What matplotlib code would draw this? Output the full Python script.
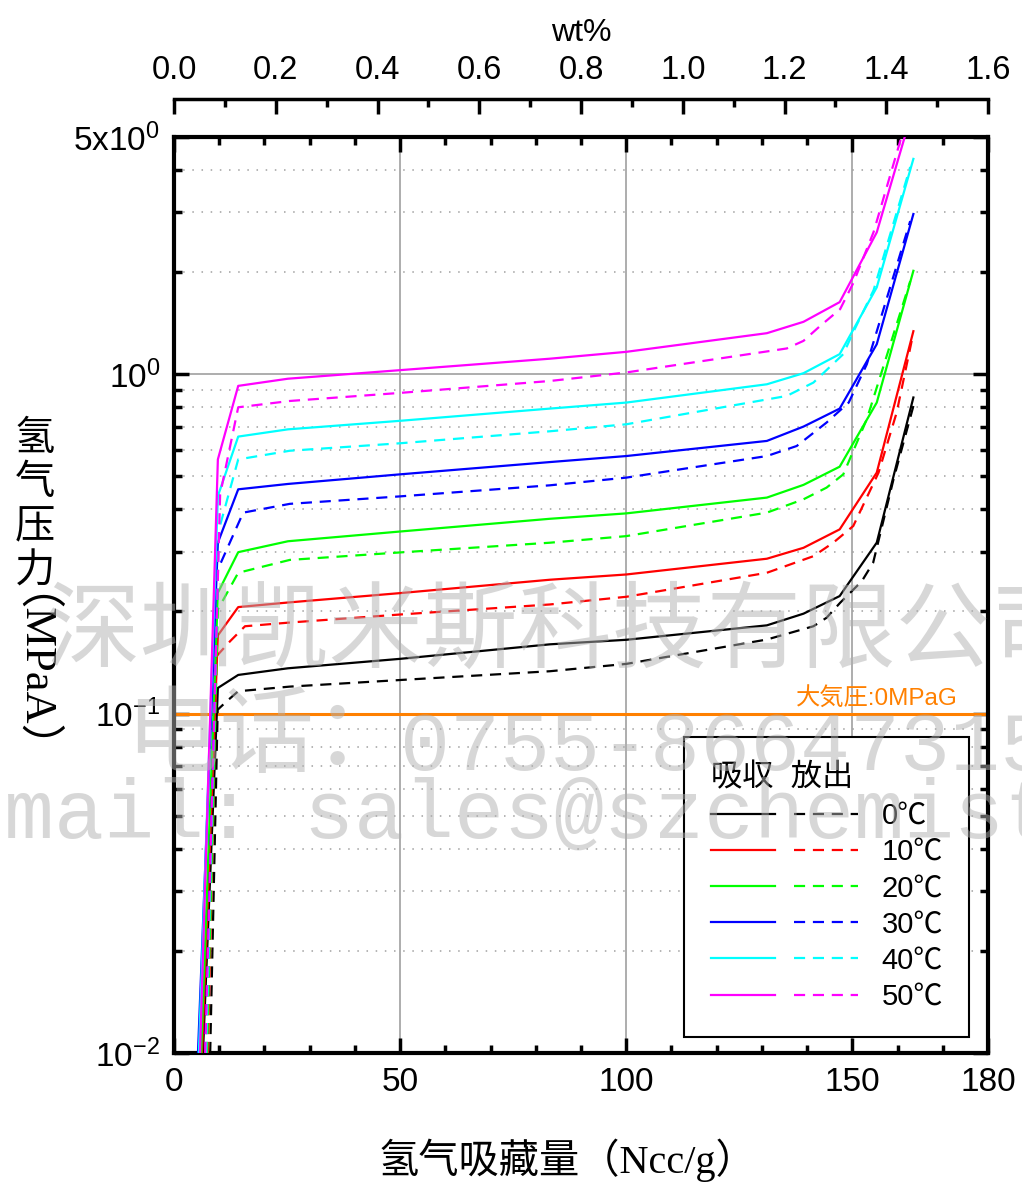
# PCT curves (absorption / desorption) of a hydrogen storage alloy
import matplotlib
matplotlib.use("Agg")
import matplotlib.pyplot as plt
import matplotlib.ticker as mticker
from matplotlib.legend_handler import HandlerTuple
from matplotlib.lines import Line2D

plt.rcParams["font.family"] = ["Liberation Sans", "Noto Sans CJK JP"]
plt.rcParams["mathtext.fontset"] = "custom"
plt.rcParams["mathtext.rm"] = "Liberation Sans"
plt.rcParams["mathtext.it"] = "Liberation Sans:italic"
plt.rcParams["mathtext.bf"] = "Liberation Sans:bold"

# ----------------------------------------------------------
# DATA  (x: Ncc/g, p: MPaA)
# ----------------------------------------------------------
temps = ["0℃", "10℃", "20℃", "30℃", "40℃", "50℃"]
colors = ["#000000", "#FF0000", "#00FF00", "#0000FF", "#00FFFF", "#FF00FF"]

# absorption (solid)
abs_x_0 = [6.4, 9.7, 14.2, 25.2, 50.0, 83.1, 100.0, 131.1, 139.2, 147.2, 155.4, 163.5]
abs_p_0 = [0.010, 0.119, 0.130, 0.136, 0.145, 0.160, 0.165, 0.182, 0.197, 0.222, 0.319, 0.854]
abs_x_10 = [6.2, 9.7, 14.2, 25.2, 50.0, 83.1, 100.0, 131.1, 139.2, 147.2, 155.4, 163.5]
abs_p_10 = [0.010, 0.170, 0.206, 0.2125, 0.2265, 0.248, 0.257, 0.286, 0.308, 0.349, 0.513, 1.339]
abs_x_20 = [6.0, 9.7, 14.2, 25.2, 50.0, 83.1, 100.0, 131.1, 139.2, 147.2, 155.4, 163.5]
abs_p_20 = [0.010, 0.227, 0.299, 0.322, 0.344, 0.375, 0.389, 0.433, 0.472, 0.534, 0.825, 2.017]
abs_x_30 = [5.3, 9.7, 14.2, 25.2, 50.0, 83.1, 100.0, 131.1, 139.2, 147.2, 155.4, 163.5]
abs_p_30 = [0.010, 0.319, 0.458, 0.475, 0.507, 0.551, 0.574, 0.636, 0.701, 0.792, 1.226, 2.965]
abs_x_40 = [5.5, 9.7, 14.2, 25.2, 50.0, 83.1, 100.0, 131.1, 139.2, 147.2, 155.4, 163.5]
abs_p_40 = [0.010, 0.4375, 0.655, 0.688, 0.729, 0.792, 0.825, 0.934, 1.007, 1.146, 1.803, 4.31]
abs_x_50 = [5.75, 9.7, 14.2, 25.2, 50.0, 83.1, 100.0, 131.1, 139.2, 147.2, 155.4, 163.5]
abs_p_50 = [0.010, 0.561, 0.924, 0.970, 1.028, 1.111, 1.164, 1.321, 1.427, 1.631, 2.618, 6.11]

# desorption (dashed)
des_x_0 = [8.0, 9.66, 11.65, 14.2, 25.6, 50.0, 83.1, 100.0, 131.1, 141.4, 144.3, 147.3, 152.1, 154.6, 159.1, 163.5]
des_p_0 = [0.010, 0.1027, 0.1087, 0.1164, 0.1201, 0.1256, 0.1333, 0.1401, 0.1653, 0.1809, 0.1916, 0.2121, 0.2456, 0.2783, 0.490, 0.806]
des_x_10 = [7.5, 9.4, 12.4, 15.7, 25.6, 50.0, 83.1, 100.0, 131.1, 141.4, 145.8, 150.2, 155.8, 159.8, 163.2]
des_p_10 = [0.010, 0.1476, 0.1634, 0.1809, 0.1855, 0.1959, 0.2097, 0.2209, 0.260, 0.291, 0.319, 0.357, 0.513, 0.771, 1.268]
des_x_20 = [7.3, 9.7, 14.2, 25.6, 50.0, 83.1, 100.0, 131.1, 139.2, 144.3, 148.0, 153.2, 162.8]
des_p_20 = [0.010, 0.2026, 0.260, 0.2837, 0.2985, 0.3188, 0.3334, 0.391, 0.428, 0.4633, 0.507, 0.737, 1.880]
des_x_30 = [6.9, 9.7, 15.3, 25.6, 50.0, 83.1, 100.0, 131.1, 137.7, 144.3, 149.2, 153.2, 162.8]
des_p_30 = [0.010, 0.266, 0.391, 0.415, 0.4366, 0.4706, 0.4958, 0.574, 0.6145, 0.7204, 0.825, 1.070, 2.827]
des_x_40 = [7.1, 9.95, 14.2, 25.6, 50.0, 83.1, 100.0, 135.5, 141.4, 148.0, 150.2, 154.7, 162.8]
des_p_40 = [0.010, 0.349, 0.561, 0.595, 0.626, 0.679, 0.712, 0.863, 0.945, 1.146, 1.330, 1.769, 4.08]
des_x_50 = [6.9, 10.2, 14.2, 25.6, 50.0, 83.1, 100.0, 135.5, 139.2, 142.9, 147.3, 150.2, 154.7, 162.8]
des_p_50 = [0.010, 0.4426, 0.799, 0.834, 0.881, 0.955, 1.012, 1.191, 1.254, 1.388, 1.555, 1.855, 2.624, 6.13]

atm_pressure = 0.1
y_major = [0.01, 0.1, 1, 5]
y_major_labels = [r"$10^{-2}$", r"$10^{-1}$", r"$10^{0}$", r"5x$10^{0}$"]
y_minor = [2e-2, 3e-2, 4e-2, 5e-2, 6e-2, 7e-2, 8e-2, 9e-2,
           0.2, 0.3, 0.4, 0.5, 0.6, 0.7, 0.8, 0.9, 2, 3, 4]
x_major = [0, 50, 100, 150, 180]

absorption = [(abs_x_0, abs_p_0), (abs_x_10, abs_p_10), (abs_x_20, abs_p_20),
              (abs_x_30, abs_p_30), (abs_x_40, abs_p_40), (abs_x_50, abs_p_50)]
desorption = [(des_x_0, des_p_0), (des_x_10, des_p_10), (des_x_20, des_p_20),
              (des_x_30, des_p_30), (des_x_40, des_p_40), (des_x_50, des_p_50)]

DASH = (0, (5, 3.5))
LW = 1.6
GRIS = "#a0a0a0"

# ----------------------------------------------------------
# FIGURE
# ----------------------------------------------------------
fig = plt.figure(figsize=(10.22, 11.82), dpi=100)
ax = fig.add_axes([174 / 1022, 1 - 1053 / 1182, 814 / 1022, 916 / 1182])

for (xa, pa), (xd, pd), c in zip(absorption, desorption, colors):
    ax.plot(xa, pa, color=c, lw=LW, zorder=3)
    ax.plot(xd, pd, color=c, lw=LW, ls=DASH, zorder=3)

ax.axhline(atm_pressure, color="#FF8000", lw=2.2, zorder=2.5)
ax.annotate("大気圧:0MPaG", xy=(173.4, atm_pressure), xytext=(0, 3),
            textcoords="offset points", ha="right", va="bottom",
            fontsize=17.5, color="#FF8000")

ax.set_yscale("log")
ax.set_xlim(0, 180)
ax.set_ylim(0.01, 5)

ax.xaxis.set_major_locator(mticker.FixedLocator(x_major))
ax.xaxis.set_minor_locator(mticker.MultipleLocator(10))
ax.yaxis.set_major_locator(mticker.FixedLocator(y_major))
ax.yaxis.set_major_formatter(mticker.FixedFormatter(y_major_labels))
ax.yaxis.set_minor_locator(mticker.FixedLocator(y_minor))
ax.yaxis.set_minor_formatter(mticker.NullFormatter())

ax.set_axisbelow(True)
ax.grid(which="major", color=GRIS, lw=1.2)
ax.grid(which="minor", axis="y", color=GRIS, lw=1.1, ls=(0, (1, 5)))

ax.tick_params(which="both", direction="in", top=True, right=True, width=2.5)
ax.tick_params(which="major", length=11, labelsize=24, pad=10)
ax.tick_params(which="minor", length=6)
for s in ax.spines.values():
    s.set_linewidth(3)

# top axis: wt%
secax = ax.secondary_xaxis("top", functions=(lambda x: x * 1.6 / 180, lambda w: w * 180 / 1.6))
secax.spines["top"].set_position(("outward", 27))
secax.spines["top"].set_linewidth(2.5)
secax.xaxis.set_major_locator(mticker.MultipleLocator(0.2))
secax.xaxis.set_minor_locator(mticker.MultipleLocator(0.1))
secax.xaxis.set_major_formatter(mticker.FormatStrFormatter("%.1f"))
secax.tick_params(which="both", direction="in", width=2.5)
secax.tick_params(which="major", length=11, labelsize=23.5, pad=10)
secax.tick_params(which="minor", length=6)
secax.set_xlabel("wt%", fontsize=23, labelpad=10)

# legend: solid + dashed sample per temperature
handles = [(Line2D([], [], color=c, lw=LW), Line2D([], [], color=c, lw=LW, ls=DASH)) for c in colors]
leg = ax.legend(handles, temps, handler_map={tuple: HandlerTuple(ndivide=None, pad=0.68)},
                loc="lower right", bbox_to_anchor=(0.977, 0.0175), borderaxespad=0,
                fontsize=21, title="吸収  放出", title_fontsize=22.5, alignment="left",
                handlelength=5.07, handletextpad=0.79, labelspacing=0.28, borderpad=0.9,
                fancybox=False, edgecolor="black", framealpha=1)
leg.get_frame().set_linewidth(1.5)
leg.set_zorder(5)

# axis labels
fig.text(567 / 1022, 1 - 1160 / 1182, "氢气吸藏量（Ncc/g）", fontsize=29,
         family=["Liberation Serif", "Noto Sans CJK SC"], ha="center", va="center")
fig.text(35 / 1022, 1 - 418 / 1182, "氢\n气\n压\n力", fontsize=29,
         family=["Noto Sans CJK SC"], ha="center", va="top", linespacing=1.1)
fig.text(8 / 1022, 1 - 696 / 1182, "（MPaA）", fontsize=32, rotation=-90,
         family=["Liberation Serif", "Noto Sans CJK SC"], ha="center", va="center")

# watermark
WM = dict(color="#b0b0b0", alpha=0.5, zorder=10)
fig.text(45 / 1022, 1 - 660 / 1182, "深圳凯米斯科技有限公司", fontsize=68,
         family=["Noto Sans CJK SC"], va="baseline", **WM)
fig.text(125 / 1022, 1 - 765 / 1182, "电话：", fontsize=68,
         family=["Noto Sans CJK SC"], va="baseline", **WM)
fig.text(400 / 1022, 1 - 770 / 1182, "0755-86647315", fontsize=60,
         family=["Liberation Mono"], va="baseline", **WM)
fig.text(-96 / 1022, 1 - 838 / 1182, "E-mail: sales@szchemist.com", fontsize=60,
         family=["Liberation Mono"], va="baseline", **WM)

fig.savefig("out.png", dpi=100)
